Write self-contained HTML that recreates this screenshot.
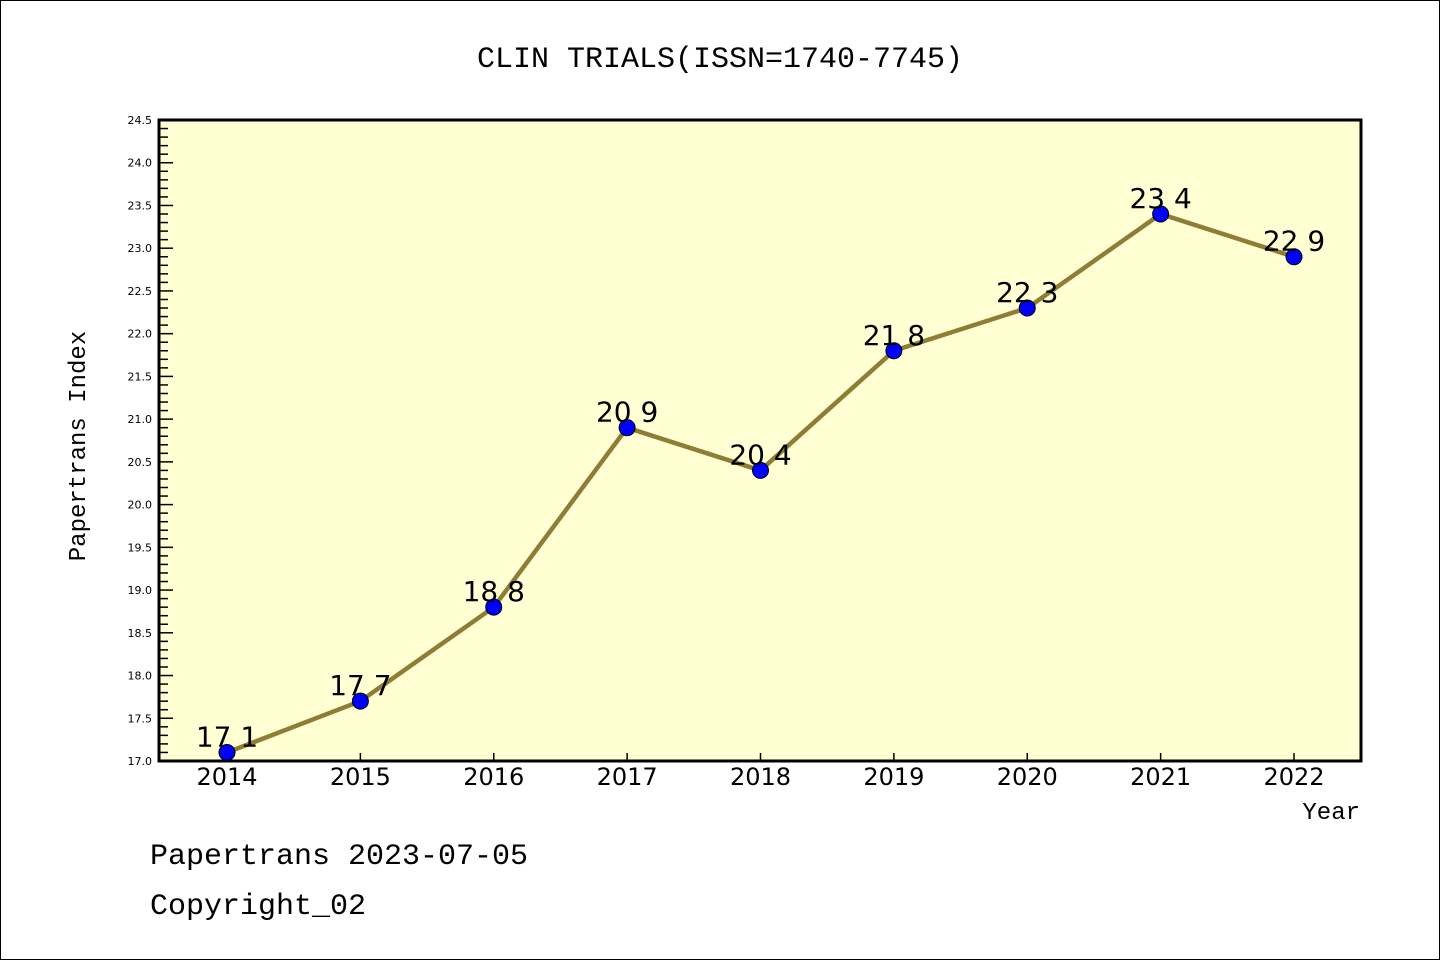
<!DOCTYPE html>
<html><head><meta charset="utf-8"><style>
html,body{margin:0;padding:0;background:#fff}
svg{display:block;font-family:"Liberation Mono","DejaVu Sans Mono",monospace}
</style></head><body>
<svg id="chart" width="1440" height="960" viewBox="0 0 1440 960">
<rect x="0.5" y="0.5" width="1439" height="959" fill="#fff" stroke="#000" stroke-width="1"/>
<text x="720" y="67" text-anchor="middle" font-size="30">CLIN TRIALS(ISSN=1740-7745)</text>
<rect x="159" y="120" width="1202" height="641" fill="#ffffd3"/>
<g id="yaxis"></g>
<g id="xaxis"></g>
<g id="series"></g>
<rect x="159" y="120" width="1202" height="641" fill="none" stroke="#000" stroke-width="3"/>
<text transform="translate(85,446) rotate(-90)" text-anchor="middle" font-size="24">Papertrans Index</text>
<text x="1360" y="819" text-anchor="end" font-size="24">Year</text>
<text x="150" y="864" font-size="30">Papertrans 2023-07-05</text>
<text x="150" y="914" font-size="30">Copyright_02</text>
</svg>
<script>
const years = [2014,2015,2016,2017,2018,2019,2020,2021,2022];
const values = [17.1,17.7,18.8,20.9,20.4,21.8,22.3,23.4,22.9];
const yTicks = ["17.0","17.5","18.0","18.5","19.0","19.5","20.0","20.5","21.0","21.5","22.0","22.5","23.0","23.5","24.0","24.5"];
(function(){
const NS="http://www.w3.org/2000/svg";
const yMin=17,yMax=24.5,plotTop=120,plotBot=761;
const y=v=>plotBot-(v-yMin)/(yMax-yMin)*(plotBot-plotTop);
const x=i=>227+i*(1294-227)/(years.length-1);
function mk(t,a,p){const e=document.createElementNS(NS,t);for(const k in a)e.setAttribute(k,a[k]);p.appendChild(e);return e;}
const ya=document.getElementById('yaxis'),xa=document.getElementById('xaxis'),sg=document.getElementById('series');
for(let k=0;k<=75;k++){const v=yMin+k*0.1;const major=k%5===0;
 const l=mk('line',{x1:159,x2:major?173:168,y1:y(v),y2:y(v),stroke:'#000','stroke-width':1.5},ya);
 
 }
yTicks.forEach(t=>{const e=mk('text',{x:152,y:y(parseFloat(t))+4,'text-anchor':'end','font-size':11,'font-family':'DejaVu Sans, sans-serif'},ya);e.textContent=t;
 
 });
years.forEach((yr,i)=>{const l=mk('line',{x1:x(i),x2:x(i),y1:plotBot,y2:plotBot-8,stroke:'#000','stroke-width':1.5},xa);
 
 
 const t=mk('text',{x:x(i),y:785,'text-anchor':'middle','font-size':24,'font-family':'DejaVu Sans, sans-serif'},xa);t.textContent=yr;
 
 });
const pl=mk('polyline',{points:values.map((v,i)=>x(i)+','+y(v)).join(' '),fill:'none',stroke:'#8f7d35','stroke-width':4.5},sg);


values.forEach((v,i)=>{const c=mk('circle',{cx:x(i),cy:y(v),r:8,fill:'#0000ff',stroke:'#000','stroke-width':1},sg);
 
 
 const t=mk('text',{x:x(i),y:y(v)-6,'text-anchor':'middle','font-size':28,'font-family':'DejaVu Sans, sans-serif'},sg);t.textContent=v.toFixed(1).replace('.',' ');
 
 });
})();
</script>
</body></html>
